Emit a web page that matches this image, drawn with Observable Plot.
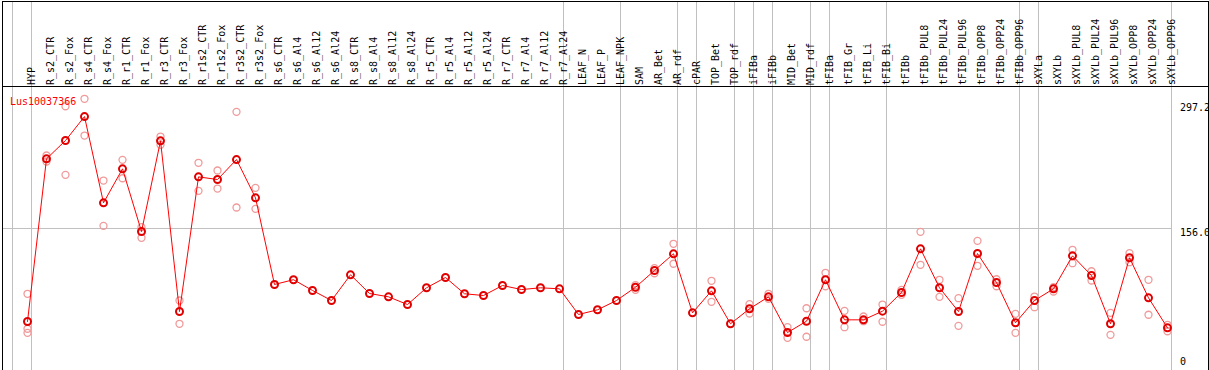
<!DOCTYPE html>
<html><head><meta charset="utf-8">
<script src="https://cdn.jsdelivr.net/npm/d3@7"></script>
<script src="https://cdn.jsdelivr.net/npm/@observablehq/plot@0.6"></script>
<style>body{margin:0;background:#fff} svg{display:block}</style>
</head><body><div id="chart"></div>
<script>
const title = "Lus10037366";
const categories = ["HYP","R_s2_CTR","R_s2_Fox","R_s4_CTR","R_s4_Fox","R_r1_CTR","R_r1_Fox","R_r3_CTR","R_r3_Fox","R_r1s2_CTR","R_r1s2_Fox","R_r3s2_CTR","R_r3s2_Fox","R_s6_CTR","R_s6_Al4","R_s6_Al12","R_s6_Al24","R_s8_CTR","R_s8_Al4","R_s8_Al12","R_s8_Al24","R_r5_CTR","R_r5_Al4","R_r5_Al12","R_r5_Al24","R_r7_CTR","R_r7_Al4","R_r7_Al12","R_r7_Al24","LEAF_N","LEAF_P","LEAF_NPK","SAM","AR_Bet","AR_rdf","cPAR","TOP_Bet","TOP_rdf","iFIBa","iFIBb","MID_Bet","MID_rdf","tFIBa","tFIB_Gr","tFIB_Li","tFIB_Bi","tFIBb","tFIBb_PUL8","tFIBb_PUL24","tFIBb_PUL96","tFIBb_OPP8","tFIBb_OPP24","tFIBb_OPP96","sXYLa","sXYLb","sXYLb_PUL8","sXYLb_PUL24","sXYLb_PUL96","sXYLb_OPP8","sXYLb_OPP24","sXYLb_OPP96"];
const means = [55.3,232.0,251.9,277.9,184.2,221.1,153.0,251.5,66.1,212.4,209.5,231.2,189.6,95.5,100.7,89.0,78.1,106.0,85.7,82.1,73.7,91.9,103.1,85.4,83.5,94.4,90.0,91.9,90.8,62.9,68.0,78.1,92.5,110.7,128.8,64.7,88.6,52.8,69.1,82.1,43.3,55.6,100.6,57.1,57.1,66.5,86.8,134.2,91.9,66.1,129.1,97.6,53.9,78.1,90.8,126.6,105.2,52.8,124.5,81.0,48.4];
const repA = [85.4,235.6,289.1,297.2,208.4,230.9,157.7,256.2,78.1,227.7,219.3,283.0,200.5,null,null,null,null,null,null,null,null,null,null,null,null,null,null,null,null,null,null,null,94.7,113.2,139.7,null,99.5,null,74.1,85.4,49.1,69.7,108.2,66.9,60.7,73.7,89.7,152.7,100.6,80.6,142.9,101.2,63.6,82.4,92.5,133.2,109.9,64.7,129.5,100.6,51.7];
const repB = [47.4,229.1,214.6,257.3,159.2,210.9,146.2,247.2,52.8,197.2,199.7,179.1,177.7,null,null,null,null,null,null,null,null,null,null,null,null,null,null,null,null,null,null,null,89.7,107.7,118.0,null,76.7,null,64.0,79.9,37.6,38.7,93.6,49.1,55.6,55.0,84.3,116.9,82.1,50.6,115.8,93.6,43.0,70.8,87.9,118.6,99.8,40.8,119.7,62.6,44.7];
const repC = [43.0];
const gridValues = [156.0];
const groupEnds = ["HYP","R_r7_Al24","LEAF_NPK","AR_rdf","cPAR","TOP_rdf","iFIBa","iFIBb","MID_rdf","tFIBa","tFIB_Bi","tFIBb_OPP96","sXYLa","sXYLb_OPP96"];
const yTopLabel = 297.2, yMidLabel = 156.0, yZeroLabel = 0;

const rows = categories.map((c, i) => ({cat: c, mean: means[i]}));
const reps = categories.flatMap((c, i) =>
  [repA[i], repB[i], repC[i]].filter(v => v != null).map(v => ({cat: c, v})));

const font = "'DejaVu Sans Mono', monospace";
const chart = Plot.plot({
  width: 1209, height: 370,
  marginTop: 0.5, marginBottom: 0.5, marginLeft: 1.5, marginRight: 1.5,
  style: {fontFamily: font, fontSize: "10px", background: "#fff", color: "#000"},
  x: {type: "point", domain: categories, range: [26.5, 1166.5], padding: 0, axis: null},
  y: {domain: [0, 297.2], range: [371.9, 98.3], axis: null},
  marks: [
    Plot.ruleY(gridValues, {stroke: "#c0c0c0", insetRight: 36.5, shapeRendering: "crispEdges"}),
    Plot.ruleX([categories[0]], {stroke: "#c0c0c0", dx: -15, shapeRendering: "crispEdges"}),
    Plot.ruleX(groupEnds, {stroke: "#c0c0c0", dx: 4, shapeRendering: "crispEdges"}),
    Plot.dot(reps, {x: "cat", y: "v", r: 3.5, stroke: "#f09a9a", strokeWidth: 1.3}),
    Plot.line(rows, {x: "cat", y: "mean", stroke: "#ff0000", strokeWidth: 1}),
    Plot.dot(rows, {x: "cat", y: "mean", r: 3.5, stroke: "#e00000", strokeWidth: 2}),
    Plot.text(categories, {x: d => d, frameAnchor: "top", dy: 84, rotate: -90, textAnchor: "start", fill: "#000"}),
    Plot.text([title], {frameAnchor: "top-left", dx: 8, dy: 96.5, textAnchor: "start", fill: "#ff0000"}),
    Plot.text([yTopLabel], {y: d => d, text: d => d.toFixed(1), frameAnchor: "right", dx: -28, dy: 8.7, textAnchor: "start", fill: "#000"}),
    Plot.text([yMidLabel], {y: d => d, text: d => d.toFixed(1), frameAnchor: "right", dx: -28, dy: 3.7, textAnchor: "start", fill: "#000"}),
    Plot.text([yZeroLabel], {y: d => d, text: d => String(d), frameAnchor: "right", dx: -28, dy: -10.2, textAnchor: "start", fill: "#000"}),
    Plot.frame({stroke: "#000", insetTop: 85, shapeRendering: "crispEdges"}),
    Plot.frame({stroke: "#000", shapeRendering: "crispEdges"})
  ]
});
document.getElementById("chart").append(chart);
</script>
</body></html>
